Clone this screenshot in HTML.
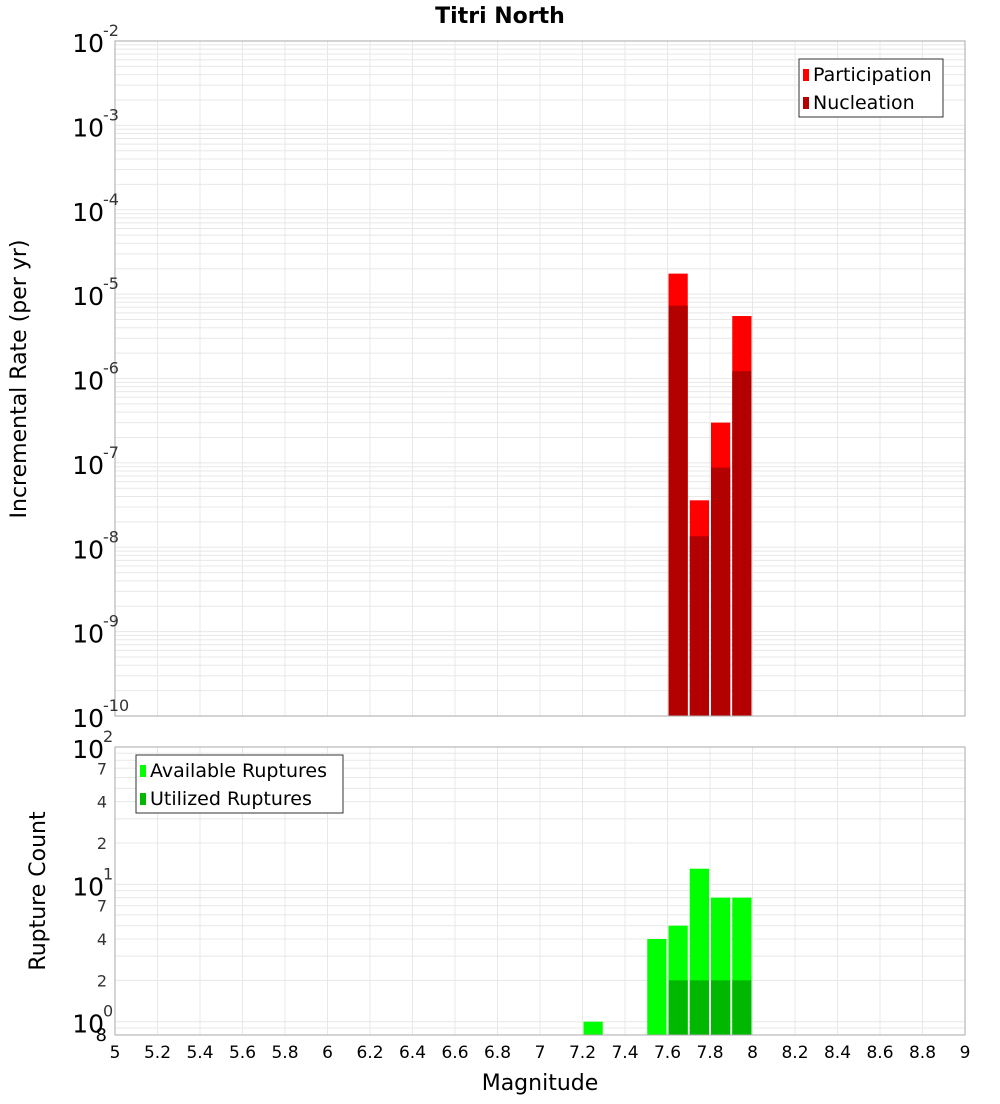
<!DOCTYPE html>
<html><head><meta charset="utf-8"><style>
body{margin:0;background:#fff;font-family:"DejaVu Sans","Liberation Sans",sans-serif}
svg text{font-family:"DejaVu Sans","Liberation Sans",sans-serif}
</style></head><body>
<svg id="chart" width="1000" height="1100" xmlns="http://www.w3.org/2000/svg"></svg>
<script>
const categories=[7.25,7.55,7.65,7.75,7.85,7.95];
const participation=[null,null,1.75e-5,3.6e-8,3.0e-7,5.5e-6];
const nucleation=[null,null,7.3e-6,1.35e-8,8.8e-8,1.22e-6];
const available=[1,4,5,13,8,8];
const utilized=[null,null,2,2,2,2];
const xTicks=[5,5.2,5.4,5.6,5.8,6,6.2,6.4,6.6,6.8,7,7.2,7.4,7.6,7.8,8,8.2,8.4,8.6,8.8,9];
const topDecades=[-10,-9,-8,-7,-6,-5,-4,-3,-2];
const botTicks=[2,4,7,20,40,70];

const NS="http://www.w3.org/2000/svg";
const svg=document.getElementById('chart');
function el(tag,attrs,parent){const e=document.createElementNS(NS,tag);for(const k in attrs)e.setAttribute(k,attrs[k]);(parent||svg).appendChild(e);return e;}
const X0=115,X1=965;
const x=v=>X0+(v-5)/(9-5)*(X1-X0);
const T0=41,T1=716;
const yT=v=>T1-(Math.log10(v)+10)/8*(T1-T0);
const B0=747,B1=1035,bmin=Math.log10(0.8),bmax=2;
const yB=v=>B1-(Math.log10(v)-bmin)/(bmax-bmin)*(B1-B0);
const grid='#e8e8e8';

function grids(yf,y0,y1,vals){
  xTicks.forEach(t=>{const l=el('line',{x1:x(t),x2:x(t),y1:y0,y2:y1,stroke:grid});});
  vals.forEach(v=>{const yy=yf(v);if(yy<y0-0.5||yy>y1+0.5)return;const l=el('line',{x1:X0,x2:X1,y1:yy,y2:yy,stroke:grid});});
}
let tv=[];for(let d=-10;d<-2;d++)for(let m=1;m<10;m++)tv.push(m*Math.pow(10,d));tv.push(1e-2);
grids(yT,T0,T1,tv);
let bv=[0.8,0.9];for(let d=0;d<2;d++)for(let m=1;m<10;m++)bv.push(m*Math.pow(10,d));bv.push(100);
grids(yB,B0,B1,bv);

const bw=x(5.1)-x(5);
function bar(c,v,yf,yb,fill,name){
  if(v==null)return;
  const r=el('rect',{x:x(c)-bw/2+1,y:yf(v),width:bw-2,height:yb-yf(v),fill:fill});
  
}
categories.forEach((c,i)=>{bar(c,participation[i],yT,T1,'#ff0000','participation-bar');bar(c,nucleation[i],yT,T1,'#b30000','nucleation-bar');});
categories.forEach((c,i)=>{bar(c,available[i],yB,B1,'#00ff00','available-bar');bar(c,utilized[i],yB,B1,'#00b800','utilized-bar');});

let f=el('rect',{x:X0,y:T0,width:X1-X0,height:T1-T0,fill:'none',stroke:'#aaa'});
f=el('rect',{x:X0,y:B0,width:X1-X0,height:B1-B0,fill:'none',stroke:'#aaa'});

topDecades.forEach(d=>{
  const yy=yT(Math.pow(10,d));
  const t=el('text',{x:104,y:yy+11,'text-anchor':'end','font-size':25});
  
  t.textContent='10';
  const s=el('text',{x:103,y:yy-5,'font-size':16,fill:'#333'});
  
  s.textContent=String(d);
});
[[100,'2'],[10,'1'],[1,'0']].forEach(([v,e])=>{
  const yy=yB(v);
  const t=el('text',{x:104,y:yy+11,'text-anchor':'end','font-size':25});
  t.textContent='10';
  const s=el('text',{x:103,y:yy-5,'font-size':16,fill:'#333'});
  s.textContent=e;
});
botTicks.forEach(v=>{
  const t=el('text',{x:107,y:yB(v)+6,'text-anchor':'end','font-size':16,fill:'#333'});
  
  t.textContent=String(v).replace(/0$/,'');
});
let t8=el('text',{x:107,y:1041,'text-anchor':'end','font-size':18});t8.textContent='8';

xTicks.forEach(v=>{
  const t=el('text',{x:x(v),y:1058,'text-anchor':'middle','font-size':17});
  
  t.textContent=String(+v.toFixed(1));
});
let tt=el('text',{x:540,y:1090,'text-anchor':'middle','font-size':22});tt.textContent='Magnitude';
tt=el('text',{x:500,y:23,'text-anchor':'middle','font-size':22,'font-weight':'bold'});tt.textContent='Titri North';
tt=el('text',{x:0,y:0,'text-anchor':'middle','font-size':22,transform:'translate(26,379) rotate(-90)'});tt.textContent='Incremental Rate (per yr)';
tt=el('text',{x:0,y:0,'text-anchor':'middle','font-size':22,transform:'translate(45,891) rotate(-90)'});tt.textContent='Rupture Count';

function legend(x0,y0,w,items,name){
  const g=el('g',{});
  el('rect',{x:x0,y:y0,width:w,height:58,fill:'#fff',stroke:'#333'},g);
  items.forEach((it,i)=>{
    const e=el('g',{},g);
    el('rect',{x:x0+4,y:y0+10+i*28,width:6,height:12,fill:it[1]},e);
    const t=el('text',{x:x0+14,y:y0+22+i*28,'font-size':19},e);t.textContent=it[0];
  });
}
legend(799,59,144,[['Participation','#ff0000'],['Nucleation','#b30000']],'top-legend');
legend(136,755,207,[['Available Ruptures','#00ff00'],['Utilized Ruptures','#00b800']],'bottom-legend');
</script>
</body></html>
